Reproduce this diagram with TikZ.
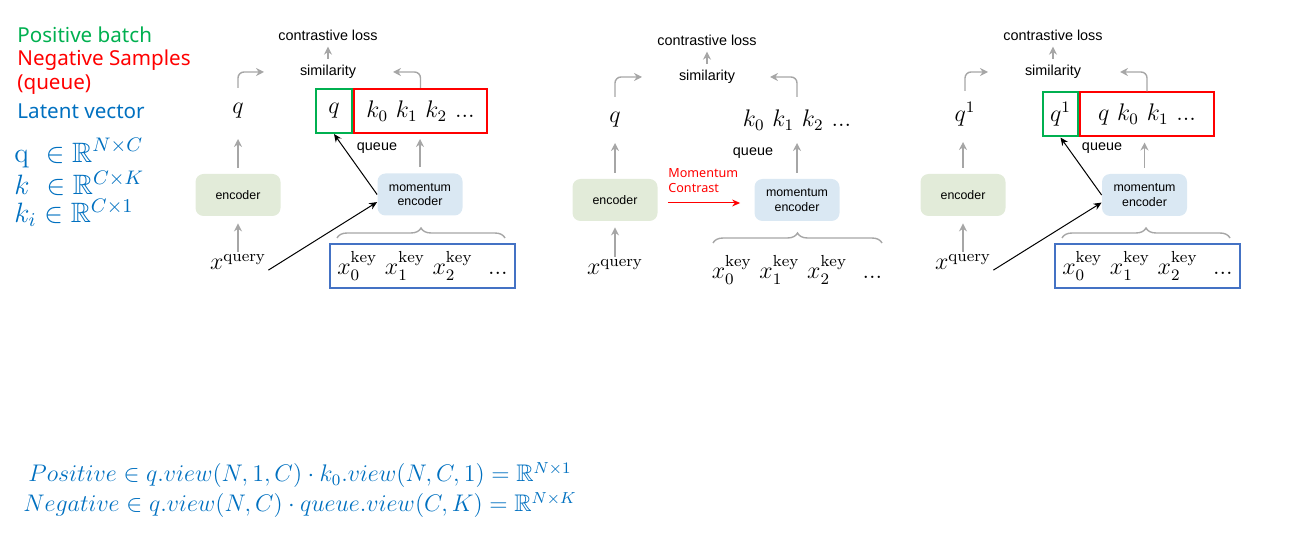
\RequirePackage{fix-cm}
\documentclass[tikz,border=0pt]{standalone}
\usepackage{amssymb}
\usepackage{fontspec}
\newfontfamily\arialfont{Liberation Sans}
\newfontfamily\legendfont{Noto Sans}
\usetikzlibrary{decorations.pathreplacing,arrows.meta}

\definecolor{posgreen}{RGB}{0,176,80}
\definecolor{negred}{RGB}{255,0,0}
\definecolor{latblue}{RGB}{0,112,192}
\definecolor{keyblue}{RGB}{68,114,196}
\definecolor{encgreen}{RGB}{226,235,217}
\definecolor{encblue}{RGB}{218,232,243}
\definecolor{arrgray}{RGB}{166,166,166}

\tikzset{
  enc/.style={fill=encgreen, rounded corners=4pt, minimum width=42.5pt, minimum height=21pt, inner sep=1pt, font=\arialfont\fontsize{6.2}{7.2}\selectfont},
  menc/.style={enc, fill=encblue, align=center},
  lbl/.style={font=\arialfont\fontsize{7.2}{8}\selectfont, inner sep=0pt},
  vec/.style={minimum height=22pt, inner sep=1pt, line width=1pt, font=\fontsize{12}{14}\selectfont},
  mth/.style={font=\fontsize{12}{14}\selectfont, inner sep=1pt},
  legend/.style={font=\legendfont\fontsize{10.3}{12}\selectfont, inner sep=0pt, anchor=west},
  dims/.style={anchor=west, inner sep=0pt, text=latblue, font=\fontsize{14}{16}\selectfont},
  grayarr/.style={draw=arrgray, line width=0.7pt, -{Stealth[length=4pt,width=4pt]}},
  blackarr/.style={line width=0.5pt, -{Stealth[length=4pt,width=3.5pt]}},
  redarr/.style={draw=negred, line width=0.5pt, -{Stealth[length=4pt,width=3.5pt]}},
  brc/.style={draw=arrgray, line width=0.7pt, decorate, decoration={brace, amplitude=5pt}},
}

\begin{document}
\begin{tikzpicture}[x=0.5pt, y=-0.5pt]
\useasboundingbox (0,0) rectangle (1300,555);

% legend
\node[legend, text=posgreen] (leg1) at (17,35) {Positive batch};
\node[legend, text=negred] (leg2) at (17,60) {Negative Samples};
\node[legend, text=negred] (leg3) at (17,85) {(queue)};
\node[legend, text=latblue] (leg4) at (17,111) {Latent vector};
\node[dims] (dim1) at (14,153) {$\mathrm{q}\ \in \mathbb{R}^{N\times C}$};
\node[dims] (dim2) at (14,183) {$k\ \in \mathbb{R}^{C\times K}$};
\node[dims] (dim3) at (14,213) {$k_i \in \mathbb{R}^{C\times 1}$};

% panel 1
\node[lbl] (loss1) at (328,35) {contrastive loss};
\node[lbl] (sim1) at (328,72) {similarity};
\node[vec] (q1) at (238,111) {$q$};
\node[vec, draw=posgreen, minimum width=18pt] (pos1) at (334,111) {$q$};
\node[vec, draw=negred, minimum width=66.5pt, anchor=west] (neg1) at (pos1.east) {$k_0\ k_1\ k_2\ ...$};
\node[enc] (enc1) at (238,195) {encoder};
\node[menc] (menc1) at (420,194.5) {momentum\\encoder};
\node[lbl] (queue1) at (377,148) {queue};
\node[mth] (xq1) at (238,262) {$x^{\mathrm{query}}$};
\node[vec, draw=keyblue, minimum width=92.5pt] (keys1) at (422.5,266) {$x_0^{\mathrm{key}}\ x_1^{\mathrm{key}}\ x_2^{\mathrm{key}}\ \ ...$};
\coordinate (simL1) at (264,72);
\coordinate (simR1) at (393,72);
\coordinate (brL1) at (337,238);
\coordinate (brR1) at (505,238);

\draw[grayarr, shorten <=3pt, shorten >=3pt] (sim1) -- (loss1);
\draw[grayarr, rounded corners=3pt] (q1.north) |- (simL1);
\draw[grayarr, rounded corners=3pt] (neg1.north) |- (simR1);
\draw[grayarr, shorten <=3pt, shorten >=2.5pt] (enc1) -- (q1);
\draw[grayarr, shorten <=3pt, shorten >=2.5pt] (menc1.north) -- (menc1.north |- neg1.south);
\draw[grayarr, shorten >=3.5pt] (xq1.north) -- (enc1.south);
\draw[blackarr] (xq1.-15) -- (menc1.190);
\draw[blackarr] (menc1.west) -- (pos1.south);
\draw[brc] (brL1) -- (brR1);

% panel 2
\node[lbl] (loss2) at (707,40) {contrastive loss};
\node[lbl] (sim2) at (707,77) {similarity};
\node[vec] (q2) at (615,120) {$q$};
\node[vec] (keys2) at (797,120) {$k_0\ k_1\ k_2\ ...$};
\node[enc] (enc2) at (615,200) {encoder};
\node[menc] (menc2) at (797,200) {momentum\\encoder};
\node[lbl] (queue2) at (753,153) {queue};
\node[anchor=west, align=left, text=negred, inner sep=0pt, font=\legendfont\fontsize{6.3}{7.5}\selectfont] (mc2) at (668,181) {Momentum\\Contrast};
\node[mth] (xq2) at (615,267) {$x^{\mathrm{query}}$};
\node[mth] (xkeys2) at (797,270) {$x_0^{\mathrm{key}}\ x_1^{\mathrm{key}}\ x_2^{\mathrm{key}}\ \ ...$};
\coordinate (simL2) at (642,77);
\coordinate (simR2) at (770,77);
\coordinate (brL2) at (713,243);
\coordinate (brR2) at (882,243);

\draw[grayarr, shorten <=3pt, shorten >=3pt] (sim2) -- (loss2);
\draw[grayarr, rounded corners=3pt] (q2.north) |- (simL2);
\draw[grayarr, rounded corners=3pt] (keys2.north) |- (simR2);
\draw[grayarr, shorten <=3pt] (enc2) -- (q2);
\draw[grayarr, shorten <=3pt] (menc2) -- (keys2);
\draw[grayarr, shorten >=3pt] (xq2.north) -- (enc2.south);
\draw[redarr, shorten <=5pt, shorten >=7pt] ([yshift=-1.5pt]enc2.east) -- ([yshift=-1.5pt]menc2.west);
\draw[brc] (brL2) -- (brR2);

% panel 3
\node[lbl] (loss3) at (1053,35) {contrastive loss};
\node[lbl] (sim3) at (1053,72) {similarity};
\node[vec] (q3) at (965,114) {$q^1$};
\node[vec, draw=posgreen, minimum width=17.5pt] (pos3) at (1060.5,114.5) {$q^1$};
\node[vec, draw=negred, minimum width=67pt, anchor=west] (neg3) at (pos3.east) {$q\ k_0\ k_1\ ...$};
\node[enc] (enc3) at (963,195) {encoder};
\node[menc] (menc3) at (1144.5,195) {momentum\\encoder};
\node[lbl] (queue3) at (1102,148) {queue};
\node[mth] (xq3) at (963,262) {$x^{\mathrm{query}}$};
\node[vec, draw=keyblue, minimum width=92.5pt] (keys3) at (1147.5,266) {$x_0^{\mathrm{key}}\ x_1^{\mathrm{key}}\ x_2^{\mathrm{key}}\ \ ...$};
\coordinate (simL3) at (988,72);
\coordinate (simR3) at (1120,72);
\coordinate (brL3) at (1062,238);
\coordinate (brR3) at (1230,238);

\draw[grayarr, shorten <=3pt, shorten >=3pt] (sim3) -- (loss3);
\draw[grayarr, rounded corners=3pt] (q3.north) |- (simL3);
\draw[grayarr, rounded corners=3pt] (neg3.north) |- (simR3);
\draw[grayarr, shorten <=3pt, shorten >=2.5pt] (enc3.north) -- (enc3.north |- q3.south);
\draw[grayarr, shorten <=3pt, shorten >=2.5pt] (menc3.north) -- (menc3.north |- neg3.south);
\draw[grayarr, shorten >=3.5pt] (xq3.north) -- (enc3.south);
\draw[blackarr] (xq3.-15) -- (menc3.190);
\draw[blackarr] (menc3.west) -- (pos3.south);
\draw[brc] (brL3) -- (brR3);

% bottom equations
\node[align=center, text=latblue, font=\fontsize{12}{15}\selectfont] (eqs) at (300,490) {$Positive \in q.view(N,1,C)\cdot k_0.view(N,C,1) = \mathbb{R}^{N\times 1}$\\$Negative \in q.view(N,C)\cdot queue.view(C,K) = \mathbb{R}^{N\times K}$};
\end{tikzpicture}
\end{document}
